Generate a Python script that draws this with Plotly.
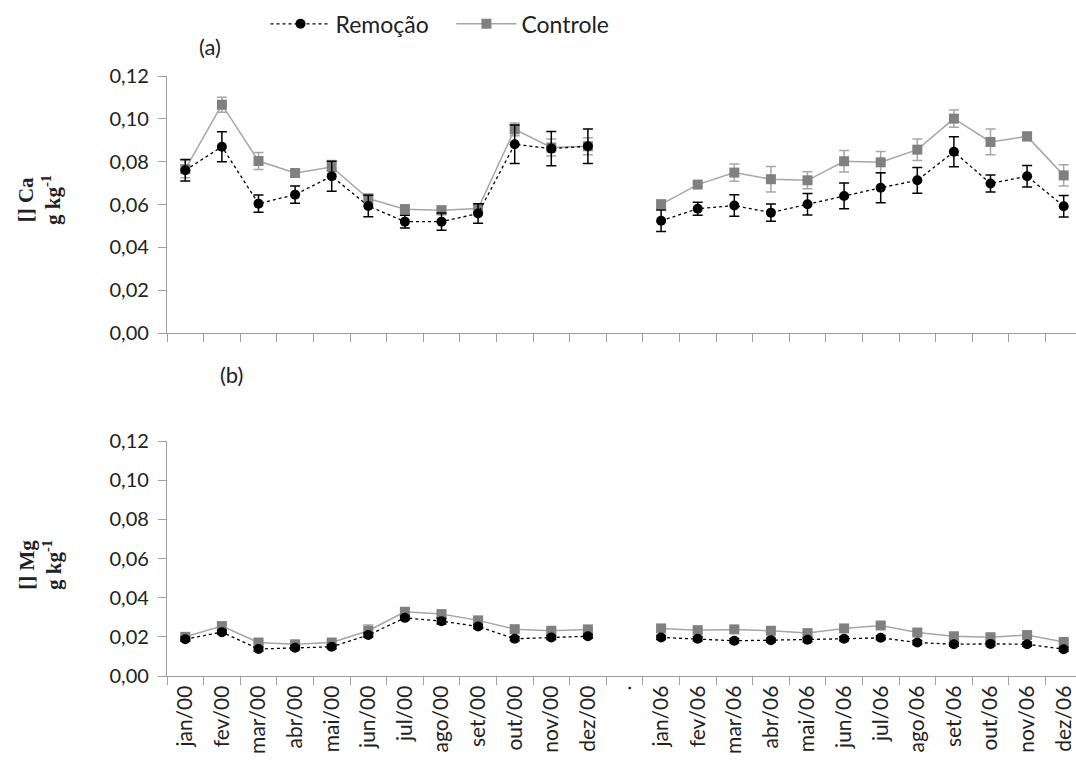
import plotly.graph_objects as go

months = ["jan", "fev", "mar", "abr", "mai", "jun", "jul", "ago", "set", "out", "nov", "dez"]
categories = [m + "/00" for m in months] + ["."] + [m + "/06" for m in months]

# Ca (panel a)
ca_rem = [0.076, 0.087, 0.0604, 0.0646, 0.0732, 0.0593, 0.052, 0.052, 0.0558, 0.0881, 0.0861, 0.0872,
          None,
          0.0524, 0.058, 0.0595, 0.0562, 0.0601, 0.064, 0.0678, 0.0713, 0.0846, 0.0698, 0.0732, 0.0592]
ca_rem_err = [0.005, 0.007, 0.004, 0.004, 0.007, 0.005, 0.003, 0.004, 0.0045, 0.009, 0.008, 0.008,
              None,
              0.005, 0.003, 0.005, 0.004, 0.005, 0.006, 0.007, 0.006, 0.007, 0.004, 0.005, 0.005]
ca_con = [0.0765, 0.1066, 0.0803, 0.0747, 0.0775, 0.0628, 0.0578, 0.0573, 0.0581, 0.0951, 0.0866, 0.0872,
          None,
          0.0601, 0.0693, 0.0749, 0.0718, 0.0713, 0.0802, 0.0797, 0.0856, 0.1001, 0.0892, 0.0918, 0.0736]
ca_con_err = [0.004, 0.0035, 0.004, 0.002, 0.003, 0.002, 0.002, 0.002, 0.002, 0.003, 0.004, 0.004,
              None,
              0.002, 0.001, 0.004, 0.006, 0.004, 0.005, 0.005, 0.005, 0.004, 0.006, 0.002, 0.005]

# Mg (panel b)
mg_rem = [0.0188, 0.0224, 0.0138, 0.0144, 0.0149, 0.0209, 0.0297, 0.028, 0.0253, 0.019, 0.0197, 0.0203,
          None,
          0.0197, 0.019, 0.018, 0.0183, 0.0185, 0.019, 0.0195, 0.0171, 0.0162, 0.0164, 0.0162, 0.0137]
mg_rem_err = [0.001, 0.001, 0.001, 0.001, 0.001, 0.001, 0.001, 0.0015, 0.001, 0.001, 0.001, 0.001,
              None,
              0.001, 0.001, 0.001, 0.001, 0.001, 0.001, 0.001, 0.001, 0.001, 0.001, 0.001, 0.001]
mg_con = [0.020, 0.0255, 0.0171, 0.0162, 0.0171, 0.0231, 0.0328, 0.0316, 0.0284, 0.0239, 0.0231, 0.0238,
          None,
          0.0243, 0.0234, 0.0238, 0.0231, 0.0219, 0.0243, 0.0258, 0.0222, 0.0203, 0.0198, 0.0209, 0.0174]
mg_con_err = [0.001, 0.0015, 0.001, 0.001, 0.001, 0.003, 0.002, 0.0015, 0.001, 0.001, 0.001, 0.001,
              None,
              0.001, 0.001, 0.001, 0.001, 0.001, 0.001, 0.001, 0.001, 0.001, 0.001, 0.001, 0.001]

y_ticks = [0, 0.02, 0.04, 0.06, 0.08, 0.10, 0.12]
y_ticktext = ["0,00", "0,02", "0,04", "0,06", "0,08", "0,10", "0,12"]

FONT = "Lato"
AXIS_GRAY = "#a0a0a0"
REM_COLOR = "black"
CON_MARK = "#808080"
CON_LINE = "#a6a6a6"
TXT = "#222"

fig = go.Figure()


def add_pair(rem, rem_err, con, con_err, xa, ya, show):
    fig.add_trace(go.Scatter(
        x=categories, y=con, name="Controle", xaxis=xa, yaxis=ya,
        mode="lines+markers", showlegend=show, legendrank=2,
        line=dict(color=CON_LINE, width=1.5),
        marker=dict(symbol="square", size=10, color=CON_MARK),
        error_y=dict(type="data", array=con_err, color=CON_LINE, thickness=1.5, width=5),
        connectgaps=False,
    ))
    fig.add_trace(go.Scatter(
        x=categories, y=rem, name="Remoção\u00a0\u00a0\u00a0", xaxis=xa, yaxis=ya,
        mode="lines+markers", showlegend=show, legendrank=1,
        line=dict(color=REM_COLOR, width=1.3, dash="dot"),
        marker=dict(symbol="circle", size=10, color=REM_COLOR),
        error_y=dict(type="data", array=rem_err, color=REM_COLOR, thickness=1.5, width=5),
        connectgaps=False,
    ))


add_pair(ca_rem, ca_rem_err, ca_con, ca_con_err, "x", "y", True)
add_pair(mg_rem, mg_rem_err, mg_con, mg_con_err, "x2", "y2", False)

W, H = 1076, 780
L = 167
plot_h = 676.0
pw = W - L
cat_px = 36.6
x_hi = -0.5 + pw / cat_px

xcommon = dict(
    type="category", categoryorder="array", categoryarray=categories,
    range=[-0.5, x_hi], tickson="boundaries", ticks="outside", ticklen=8,
    tickcolor=AXIS_GRAY, showline=True, linecolor=AXIS_GRAY, linewidth=1.3,
    showgrid=False, zeroline=False, fixedrange=True, automargin=False,
)
ycommon = dict(
    range=[0, 0.12], tickvals=y_ticks, ticktext=y_ticktext, ticks="outside", ticklen=8,
    tickcolor=AXIS_GRAY, showline=True, linecolor=AXIS_GRAY, linewidth=1.3,
    showgrid=False, zeroline=False, tickfont=dict(family=FONT, size=20, color=TXT),
    ticklabelstandoff=5, automargin=False,
)


def ypix(p):
    return (plot_h - p) / plot_h


fig.update_layout(
    width=W, height=H,
    margin=dict(l=L, r=0, t=0, b=H - plot_h, autoexpand=False),
    paper_bgcolor="white", plot_bgcolor="white",
    font=dict(family=FONT, size=18, color=TXT),
    xaxis=dict(xcommon, domain=[0, 1], anchor="y", showticklabels=False),
    yaxis=dict(ycommon, domain=[ypix(333), ypix(76)], anchor="x"),
    xaxis2=dict(xcommon, domain=[0, 1], anchor="y2", tickangle=-90,
                tickfont=dict(family=FONT, size=21, color=TXT)),
    yaxis2=dict(ycommon, domain=[0, ypix(441)], anchor="x2"),
    legend=dict(orientation="h", x=440 / W, y=0.997, xref="container", yref="container",
                xanchor="center", yanchor="top",
                font=dict(family=FONT, size=23, color=TXT), traceorder="normal",
                itemwidth=60, tracegroupgap=0),
    annotations=[
        dict(text="(a)", x=210, y=47, showarrow=False,
             font=dict(family=FONT, size=22, color=TXT)),
        dict(text="(b)", x=231, y=374, showarrow=False,
             font=dict(family=FONT, size=22, color=TXT)),
        dict(text="<b>[] Ca<br>g kg<sup>-1</sup></b>", x=40, y=200, showarrow=False,
             textangle=-90, font=dict(family="Liberation Serif", size=21, color=TXT)),
        dict(text="<b>[] Mg<br>g kg<sup>-1</sup></b>", x=40, y=565, showarrow=False,
             textangle=-90, font=dict(family="Liberation Serif", size=21, color=TXT)),
    ],
)

# convert annotation pixel positions (page pixels) into paper coordinates
for a in fig.layout.annotations:
    px, py = a.x, a.y
    a.x = (px - L) / pw
    a.y = ypix(py)
    a.xref = "paper"
    a.yref = "paper"
    a.xanchor = "center"
    a.yanchor = "middle"

fig.write_html(
    "out.html",
    config={"displayModeBar": False},
    post_script="document.body.style.margin='0';document.body.style.overflow='hidden';",
)
